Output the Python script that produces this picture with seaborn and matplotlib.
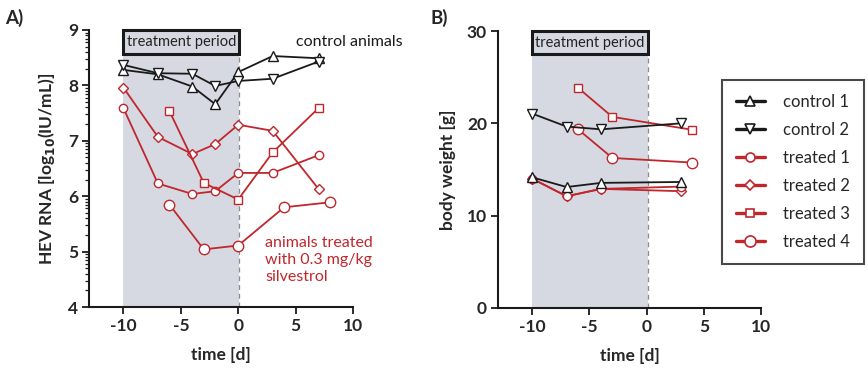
import numpy as np
import pandas as pd
import matplotlib
matplotlib.use("Agg")
import matplotlib.pyplot as plt
from matplotlib.patches import Rectangle
from matplotlib.lines import Line2D
import seaborn as sns

# ---------------- data ----------------
series_names = ["control 1", "control 2", "treated 1", "treated 2", "treated 3", "treated 4"]

# Panel A: HEV RNA [log10(IU/mL)]
days_ctrl = [-10, -7, -4, -2, 0, 3, 7]
rna_control1 = [8.28, 8.20, 7.98, 7.66, 8.24, 8.53, 8.49]
rna_control2 = [8.37, 8.22, 8.21, 7.99, 8.08, 8.12, 8.43]
days_t12 = [-10, -7, -4, -2, 0, 3, 7]
rna_treated1 = [7.59, 6.23, 6.04, 6.09, 6.42, 6.42, 6.74]
rna_treated2 = [7.96, 7.07, 6.76, 6.94, 7.29, 7.18, 6.13]
days_t3 = [-6, -3, 0, 3, 7]
rna_treated3 = [7.54, 6.24, 5.94, 6.79, 7.59]
days_t4 = [-6, -3, 0, 4, 8]
rna_treated4 = [5.85, 5.04, 5.11, 5.80, 5.89]

# Panel B: body weight [g]
days_w = [-10, -7, -4, 3]
w_control1 = [14.15, 13.10, 13.55, 13.65]
w_control2 = [21.05, 19.65, 19.35, 20.00]
w_treated1 = [14.00, 12.10, 12.90, 13.15]
w_treated2 = [14.00, 12.10, 12.90, 12.65]
days_w34 = [-6, -3, 4]
w_treated3 = [23.85, 20.70, 19.30]
w_treated4 = [19.35, 16.25, 15.75]

x_ticks = [-10, -5, 0, 5, 10]
yticks_a = [4, 5, 6, 7, 8, 9]
yticks_b = [0, 10, 20, 30]

# ---------------- style ----------------
sns.set_style("ticks")
plt.rcParams["font.family"] = ["Lato", "DejaVu Sans"]

BLACK = "#1a1a1a"
RED = "#c0272d"
SHADE = "#d6d9e2"

styles = {
    "control 1": dict(color=BLACK, marker="^", ms=7),
    "control 2": dict(color=BLACK, marker="v", ms=7),
    "treated 1": dict(color=RED, marker="o", ms=6),
    "treated 2": dict(color=RED, marker="D", ms=5),
    "treated 3": dict(color=RED, marker="s", ms=5.5),
    "treated 4": dict(color=RED, marker="o", ms=7.5),
}

rna = {
    "control 1": (days_ctrl, rna_control1),
    "control 2": (days_ctrl, rna_control2),
    "treated 1": (days_t12, rna_treated1),
    "treated 2": (days_t12, rna_treated2),
    "treated 3": (days_t3, rna_treated3),
    "treated 4": (days_t4, rna_treated4),
}
weight = {
    "control 1": (days_w, w_control1),
    "control 2": (days_w, w_control2),
    "treated 1": (days_w, w_treated1),
    "treated 2": (days_w, w_treated2),
    "treated 3": (days_w34, w_treated3),
    "treated 4": (days_w34, w_treated4),
}

fig = plt.figure(figsize=(8.68, 3.69), dpi=100)
axA = fig.add_axes([89 / 868, 1 - 307 / 369, 264 / 868, 277 / 369])
axB = fig.add_axes([498 / 868, 1 - 308 / 369, 263 / 868, 277 / 369])


def draw(ax, data, order):
    for name in order:
        d, v = data[name]
        df = pd.DataFrame({"time": d, "value": v})
        st = styles[name]
        sns.lineplot(data=df, x="time", y="value", ax=ax, sort=False,
                     color=st["color"], marker=st["marker"], ms=st["ms"],
                     mfc="white", mec=st["color"], mew=1.0, lw=1.3,
                     zorder=3, legend=False)


def frame(ax, ylim, yticks, box_bottom):
    ax.set_xlim(-13, 10)
    ax.set_ylim(*ylim)
    ax.axvspan(-10, 0.1, color=SHADE, lw=0, zorder=0)
    ax.axvline(0.1, color="#8c8c8c", ls=(0, (4, 3)), lw=0.9, zorder=1)
    rect = Rectangle((-10, box_bottom), 10.1, ylim[1] - box_bottom,
                     facecolor=SHADE, edgecolor=BLACK, lw=2.2, zorder=4,
                     clip_on=False)
    ax.add_patch(rect)
    ax.text(-4.95, (box_bottom + ylim[1]) / 2, "treatment period",
            ha="center", va="center", fontsize=10.5, color="#222222", zorder=5)
    ax.set_xticks(x_ticks)
    ax.set_xticklabels([str(t) for t in x_ticks])
    ax.set_yticks(yticks)
    ax.set_yticklabels([str(t) for t in yticks])
    for lab in ax.get_xticklabels() + ax.get_yticklabels():
        lab.set_fontweight("bold")
        lab.set_fontsize(12.5)
    ax.tick_params(axis="both", direction="out", length=5, width=1.3,
                   color=BLACK, pad=3)
    sns.despine(ax=ax)
    for s in ("left", "bottom"):
        ax.spines[s].set_linewidth(1.5)
        ax.spines[s].set_color(BLACK)
    ax.set_xlabel("time [d]", fontsize=12.5, fontweight="bold", labelpad=9)


draw(axA, rna, ["treated 2", "treated 1", "treated 3", "treated 4", "control 1", "control 2"])
frame(axA, (4, 9), yticks_a, 8.57)
minor = [k + np.log10(m) for k in range(4, 9) for m in range(2, 10)]
axA.set_yticks(minor, minor=True)
axA.tick_params(axis="y", which="minor", length=3, width=0.9, color=BLACK)
axA.set_ylabel(r"HEV RNA [log$_{\mathbf{10}}$(IU/mL)]", fontsize=12.5,
               fontweight="bold", labelpad=8)
axA.text(5.0, 8.78, "control animals", ha="left", va="center",
         fontsize=11.5, color=BLACK)
axA.text(2.35, 5.28, "animals treated\nwith 0.3 mg/kg\nsilvestrol", ha="left",
         va="top", fontsize=11.5, color=RED, linespacing=1.25)

draw(axB, weight, ["treated 3", "treated 4", "treated 2", "treated 1", "control 2", "control 1"])
frame(axB, (0, 30), yticks_b, 27.47)
axB.set_ylabel("body weight [g]", fontsize=12.5, fontweight="bold", labelpad=8)

fig.text(5 / 868, 1 - 18 / 369, "A)", fontsize=13.5, fontweight="bold",
         ha="left", va="center")
fig.text(430 / 868, 1 - 18 / 369, "B)", fontsize=13.5, fontweight="bold",
         ha="left", va="center")

handles = []
for name in series_names:
    st = styles[name]
    handles.append(Line2D([], [], color=st["color"], lw=2.4, marker=st["marker"],
                          ms=st["ms"] + 0.5, mfc="white", mec=st["color"], mew=1.2))
leg = fig.legend(handles, series_names, loc="upper left",
                 bbox_to_anchor=(722 / 868, 1 - 80 / 369), frameon=True,
                 fancybox=False, fontsize=12, handlelength=1.7,
                 handletextpad=1.1, labelspacing=0.72, borderpad=0.85,
                 borderaxespad=0)
leg.get_frame().set_edgecolor(BLACK)
leg.get_frame().set_linewidth(1.5)

fig.savefig("out.png", dpi=100)
